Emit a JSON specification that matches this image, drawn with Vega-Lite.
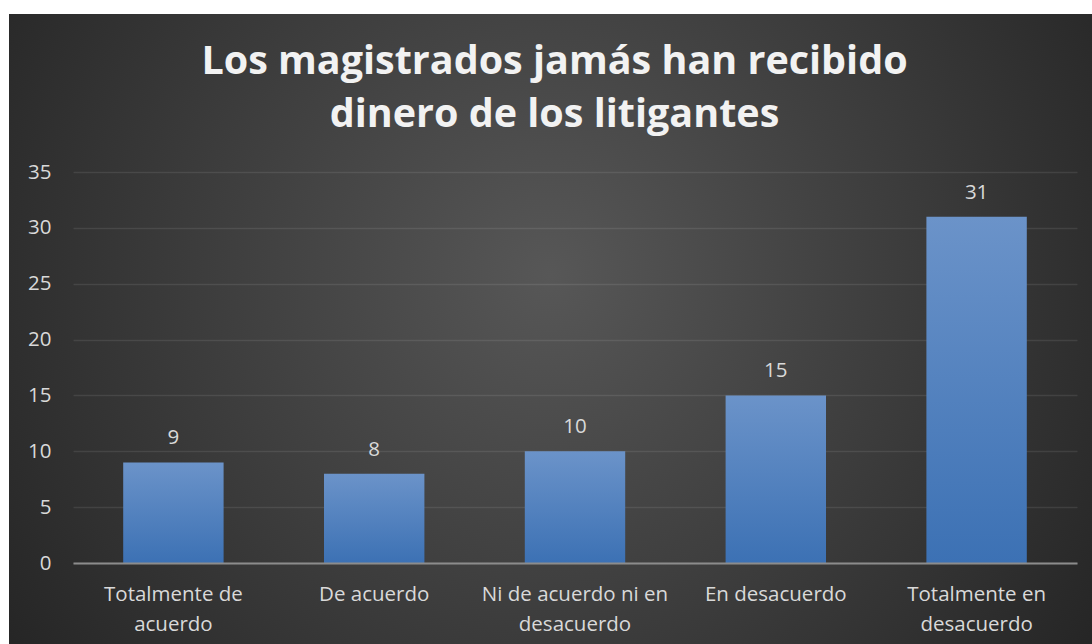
{
  "$schema": "https://vega.github.io/schema/vega-lite/v6.json",
  "width": 1083,
  "height": 630,
  "autosize": {"type": "none"},
  "padding": {"left": 9, "top": 14, "right": 0, "bottom": 0},
  "background": "#ffffff",
  "title": {
    "text": ["Los magistrados jamás han recibido", "dinero de los litigantes"],
    "anchor": "middle",
    "frame": "group",
    "orient": "top",
    "offset": -61,
    "baseline": "alphabetic",
    "font": "Open Sans",
    "fontSize": 39.5,
    "fontWeight": "bold",
    "color": "#f2f2f2",
    "lineHeight": 53,
    "dx": 4,
    "dy": 91
  },
  "data": {
    "values": [
      {"respuesta": "Totalmente de acuerdo", "cantidad": 9},
      {"respuesta": "De acuerdo", "cantidad": 8},
      {"respuesta": "Ni de acuerdo ni en desacuerdo", "cantidad": 10},
      {"respuesta": "En desacuerdo", "cantidad": 15},
      {"respuesta": "Totalmente en desacuerdo", "cantidad": 31}
    ]
  },
  "encoding": {
    "x": {
      "field": "respuesta",
      "type": "nominal",
      "sort": null,
      "scale": {"range": [64, 1068], "paddingInner": 0.5, "paddingOuter": 0.25},
      "axis": {
        "title": null,
        "labelAngle": 0,
        "offset": -81,
        "domainColor": "#8c8c8c",
        "domainWidth": 1.8,
        "ticks": false,
        "grid": false,
        "labelPadding": 21,
        "labelFont": "Open Sans",
        "labelFontSize": 20.5,
        "labelColor": "#d9d9d9",
        "labelLineHeight": 30,
        "labelLimit": 0,
        "labelExpr": "length(datum.label) > 15 ? [substring(datum.label, 0, lastindexof(datum.label, ' ')), substring(datum.label, lastindexof(datum.label, ' ') + 1)] : datum.label",
        "zindex": 1
      }
    },
    "y": {
      "field": "cantidad",
      "type": "quantitative",
      "scale": {"domain": [0, 35], "range": [549, 158], "nice": false},
      "axis": {
        "title": null,
        "values": [0, 5, 10, 15, 20, 25, 30, 35],
        "offset": -64,
        "domain": false,
        "ticks": false,
        "labelPadding": 22,
        "labelFont": "Open Sans",
        "labelFontSize": 20.5,
        "labelColor": "#d9d9d9",
        "gridColor": "#ffffff",
        "gridOpacity": 0.09,
        "gridWidth": 1.3
      }
    }
  },
  "layer": [
    {
      "mark": {
        "type": "bar",
        "color": {
          "gradient": "linear",
          "x1": 0, "y1": 0, "x2": 0, "y2": 1,
          "stops": [
            {"offset": 0, "color": "#6b93c9"},
            {"offset": 1, "color": "#3c71b4"}
          ]
        }
      }
    },
    {
      "mark": {
        "type": "text",
        "dy": -18,
        "baseline": "alphabetic",
        "font": "Open Sans",
        "fontSize": 20.5,
        "color": "#d9d9d9"
      },
      "encoding": {"text": {"field": "cantidad", "type": "quantitative"}}
    }
  ],
  "config": {
    "view": {
      "stroke": null,
      "fill": {
        "gradient": "radial",
        "x1": 0.5, "y1": 0.45, "r1": 0,
        "x2": 0.5, "y2": 0.45, "r2": 0.6,
        "stops": [
          {"offset": 0, "color": "#575757"},
          {"offset": 1, "color": "#262626"}
        ]
      }
    }
  }
}
